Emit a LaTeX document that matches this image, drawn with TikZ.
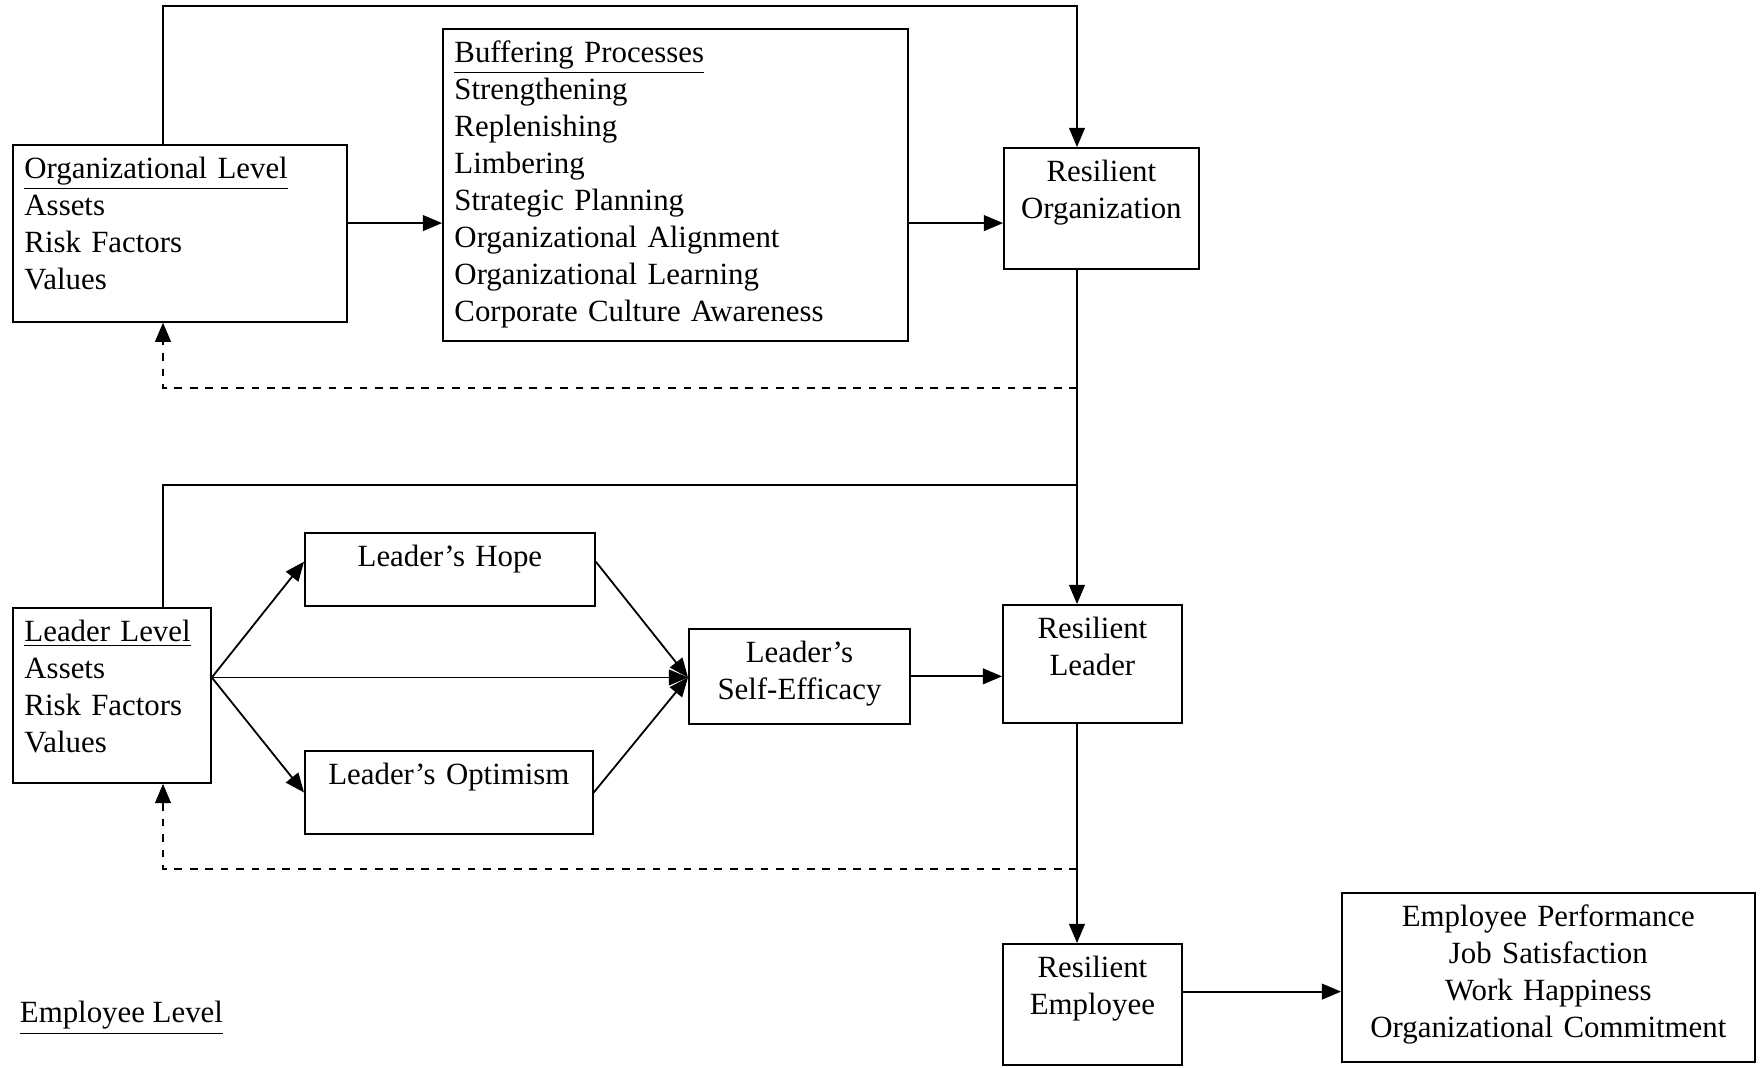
\documentclass[tikz,border=0pt]{standalone}
\usepackage{fontspec}
\setmainfont{Liberation Serif}
\usepackage{tikz}
\usetikzlibrary{shapes,arrows}
\usetikzlibrary{calc}

\begin{document}
\begin{tikzpicture}[x=0.3889pt,y=-0.3889pt,
  line width=0.7pt,
  font=\fontsize{12pt}{14.4pt}\selectfont,
  levelbox/.style={draw, anchor=north west, align=left, inner xsep=4.5pt, inner ysep=2pt, text height=11pt},
  centerbox/.style={draw, anchor=north west, align=center, inner xsep=4.5pt, inner ysep=2pt, text height=11pt},
  link/.style={-triangle 45},
  back/.style={-triangle 45, dashed}
  ]
  \useasboundingbox (0,0) rectangle (1764,1067);

  % organizational level
  \node[levelbox, text width=120.9pt, text depth=53.8pt] (org) at (12,144) {\underline{Organizational Level}\\ Assets\\ Risk Factors\\ Values};
  \node[levelbox, text width=171.8pt, text depth=106.3pt] (buf) at (442,28) {\underline{Buffering Processes}\\ Strengthening\\ Replenishing\\ Limbering\\ Strategic Planning\\ Organizational Alignment\\ Organizational Learning\\ Corporate Culture Awareness};
  \node[centerbox, text width=66.8pt, text depth=32.1pt] (ro) at (1003,147) {Resilient\\ Organization};

  % leader level
  \node[levelbox, text width=68pt, text depth=53.1pt] (ll) at (12,607) {\underline{Leader Level}\\ Assets\\ Risk Factors\\ Values};
  \node[centerbox, text width=103.8pt, text depth=13.4pt] (hope) at (304,532) {Leader’s Hope};
  \node[centerbox, text width=103pt, text depth=17.3pt] (opt) at (304,750) {Leader’s Optimism};
  \node[centerbox, text width=77pt, text depth=21.9pt] (se) at (688,628) {Leader’s\\ Self-Efficacy};
  \node[centerbox, text width=60.6pt, text depth=30.9pt] (rl) at (1002,604) {Resilient\\ Leader};

  % employee level
  \node[centerbox, text width=60.6pt, text depth=32.1pt] (re) at (1002,943) {Resilient\\ Employee};
  \node[centerbox, text width=151.6pt, text depth=50.7pt] (out) at (1341,892) {Employee Performance\\ Job Satisfaction\\ Work Happiness\\ Organizational Commitment};
  \node[anchor=west, inner sep=0pt] (emp) at (19,1018) {\underline{Employee Level}};

  \coordinate (col) at (163,6);
  \coordinate (spine) at (1077,6);
  \coordinate (fb1) at (1077,388);
  \coordinate (lj) at (1077,485);
  \coordinate (fb2) at (1077,869);

  \draw[link] (col |- org.north) -- (col) -- (spine) -- (spine |- ro.north);
  \coordinate (ob) at ([yshift=4pt]org.east);
  \draw[link] (ob) -- (ob -| buf.west);
  \draw[link] (ob -| buf.east) -- (ob -| ro.west);
  \draw[back] (fb1) -| (col |- org.south);
  \draw (col |- ll.north) |- (lj);
  \draw[link] (spine |- ro.south) -- (spine |- rl.north);

  \coordinate (fan) at ([yshift=7pt]ll.east);
  \draw[link] (fan) -- ([yshift=3pt]hope.west);
  \draw[link] (fan) -- (opt.west);
  \draw[link] (fan) -- (fan -| se.west);
  \draw[link] ([yshift=3pt]hope.east) -- (fan -| se.west);
  \draw[link] (opt.east) -- (fan -| se.west);
  \draw[link] (se.east) -- (se.east -| rl.west);
  \draw[back] (fb2) -| (col |- ll.south);
  \draw[link] (spine |- rl.south) -- (spine |- re.north);

  \coordinate (eo) at ([yshift=5pt]re.east);
  \draw[link] (eo) -- (eo -| out.west);
\end{tikzpicture}
\end{document}
